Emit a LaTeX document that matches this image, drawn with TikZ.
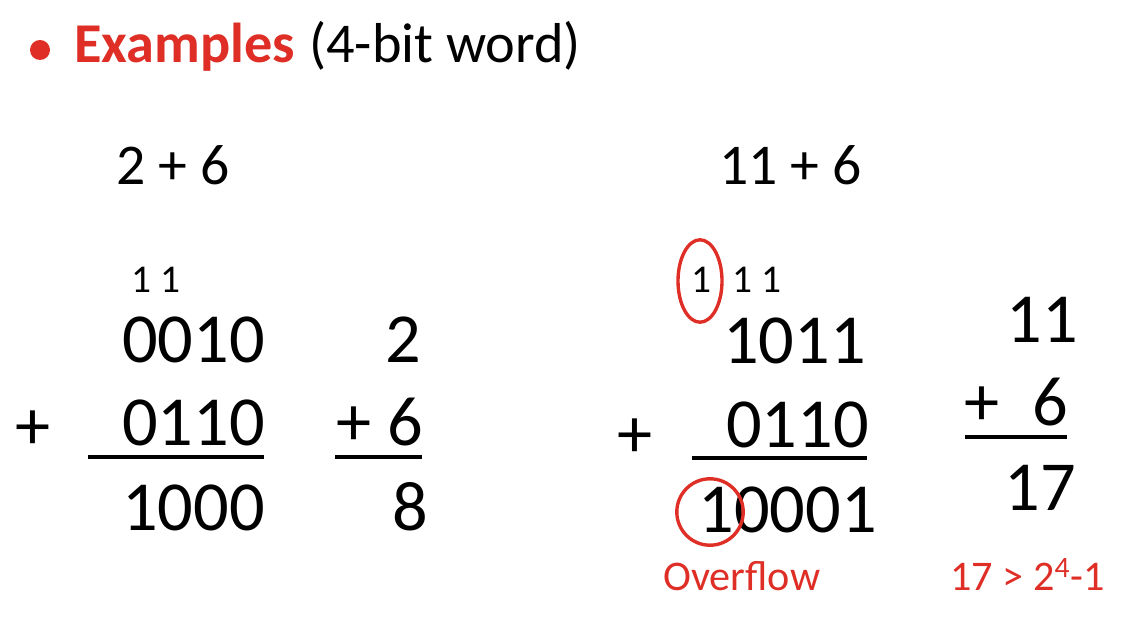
\documentclass[tikz,border=0pt]{standalone}
\usepackage{fontspec}
\setmainfont{Carlito}
\definecolor{slidered}{RGB}{222,46,38}
\newcommand{\fs}[1]{\fontsize{#1}{1.2\dimexpr#1pt\relax}\selectfont}

\begin{document}
\begin{tikzpicture}[x=0.025cm,y=-0.025cm,
  txt/.style={inner sep=0pt,anchor=base west},
  head/.style={txt,font=\fs{40}},
  big/.style={txt,font=\fs{50}},
  sum/.style={txt,font=\fs{41}},
  carry/.style={txt,font=\fs{28}},
  note/.style={txt,font=\fs{30},text=slidered},
  rule/.style={line width=2.6pt},
  ring/.style={draw=slidered,line width=2.4pt}]
\useasboundingbox (0,0) rectangle (1128,622);

% title
\fill[slidered] (40,50) circle (0.25cm);
\node[head,font=\fs{40}\bfseries,text=slidered] (title) at (74,63) {Examples};
\node[head] (word) at (309,63) {(4-bit word)};

% 2 + 6
\node[sum] (sumA) at (116,185) {2 + 6};
\node[carry] (carryA) at (131,293) {1 1};
\node[big,anchor=base east] (aTop) at (265,362) {0010};
\node[big,anchor=center] (plusA) at (33,430) {+};
\node[big,anchor=base east] (aMid) at (265,445) {0110};
\node[big,anchor=base east] (aBot) at (265,530) {1000};
\node[big,anchor=base east] (dTop) at (421,362) {2};
\node[big,anchor=base east] (dMid) at (423,445) {+ 6};
\node[big,anchor=base east] (dBot) at (428,530) {8};
\coordinate (lineA1) at (88,457);
\coordinate (lineA2) at (264,457);
\coordinate (lineD1) at (335,457);
\coordinate (lineD2) at (422,457);
\draw[rule] (lineA1)--(lineA2);
\draw[rule] (lineD1)--(lineD2);

% 11 + 6
\node[sum] (sumB) at (719,185) {11 + 6};
\node[carry] (carryB1) at (691,293) {1};
\node[carry] (carryB2) at (732,293) {1 1};
\node[big,anchor=base east] (bTop) at (866,363) {1011};
\node[big,anchor=center] (plusB) at (635,438) {+};
\node[big,anchor=base east] (bMid) at (869,447) {0110};
\node[big,anchor=base east] (bBot) at (877,532) {10001};
\node[big,anchor=base east] (eTop) at (1078,342) {11};
\node[big,anchor=base west] (ePlus) at (964,425) {+};
\node[big,anchor=base east] (eMid) at (1068,425) {6};
\node[big,anchor=base east] (eBot) at (1076,510) {17};
\coordinate (lineB1) at (692,458);
\coordinate (lineB2) at (867,458);
\coordinate (lineE1) at (965,437);
\coordinate (lineE2) at (1067,437);
\draw[rule] (lineB1)--(lineB2);
\draw[rule] (lineE1)--(lineE2);

% overflow marks
\draw[ring] (700,281) ellipse [x radius=0.55cm,y radius=1.03cm];
\draw[ring] (710,512) circle (0.83cm);
\node[note] (over) at (663,590) {Overflow};
\node[note] (limit) at (950,590) {17 > 2\textsuperscript{4}-1};

\end{tikzpicture}
\end{document}
